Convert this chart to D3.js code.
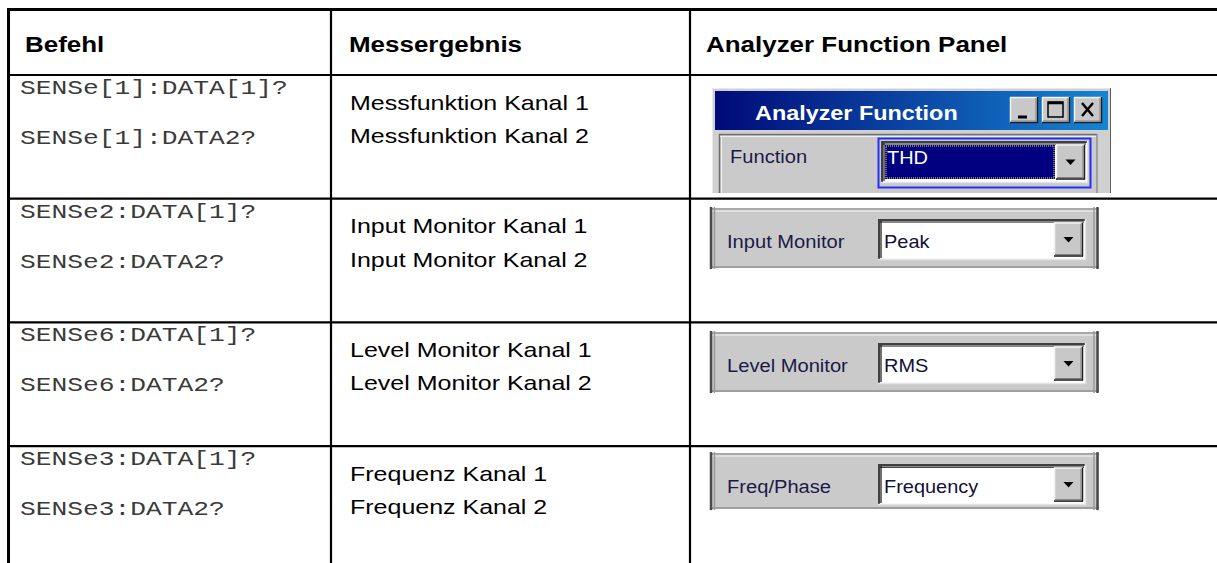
<!DOCTYPE html>
<html><head><meta charset="utf-8">
<script src="https://cdn.jsdelivr.net/npm/d3@7"></script>
<style>html,body{margin:0;padding:0;background:#fff}svg{display:block}</style>
</head><body>
<script>
// ---- data ----
const headers = ["Befehl", "Messergebnis", "Analyzer Function Panel"];
const commands1 = ["SENSe[1]:DATA[1]?", "SENSe2:DATA[1]?", "SENSe6:DATA[1]?", "SENSe3:DATA[1]?"];
const commands2 = ["SENSe[1]:DATA2?", "SENSe2:DATA2?", "SENSe6:DATA2?", "SENSe3:DATA2?"];
const results1 = ["Messfunktion Kanal 1", "Input Monitor Kanal 1", "Level Monitor Kanal 1", "Frequenz Kanal 1"];
const results2 = ["Messfunktion Kanal 2", "Input Monitor Kanal 2", "Level Monitor Kanal 2", "Frequenz Kanal 2"];
const panelLabels = ["Function", "Input Monitor", "Level Monitor", "Freq/Phase"];
const panelValues = ["THD", "Peak", "RMS", "Frequency"];
const windowTitle = "Analyzer Function";

// ---- layout ----
const W = 1217, H = 563;
const svg = d3.select("body").append("svg").attr("width", W).attr("height", H);

const colX = d3.scaleOrdinal().domain([0, 1, 2]).range([8.5, 331, 690]);
const rowY = d3.scaleLinear().domain([0, 4]).range([75, 75 + 4 * 123.7]);
const rows = d3.range(commands1.length);

const lines = svg.append("g").attr("stroke", "#000");
lines.append("line").attr("x1", 7).attr("x2", W).attr("y1", 9.5).attr("y2", 9.5).attr("stroke-width", 3);
lines.selectAll("line.h").data(rows).join("line").attr("class", "h")
  .attr("x1", 7).attr("x2", W).attr("y1", d => rowY(d)).attr("y2", d => rowY(d)).attr("stroke-width", 2.2);
lines.selectAll("line.v").data([0, 1, 2]).join("line").attr("class", "v")
  .attr("x1", d => colX(d)).attr("x2", d => colX(d)).attr("y1", 8).attr("y2", H)
  .attr("stroke-width", d => d === 0 ? 3 : 2.2);

function stretchedText(g, x, y, txt, font, size, weight, fill, sx) {
  return g.append("text").attr("transform", `translate(${x},${y}) scale(${sx},1)`)
    .attr("font-family", font).attr("font-size", size).attr("font-weight", weight || "normal")
    .attr("fill", fill || "#000").text(txt);
}
const SANS = "'Liberation Sans', Arial, sans-serif";
const MONO = "'Liberation Mono', 'Courier New', monospace";
const UI = "'Liberation Sans', Tahoma, sans-serif";

// header
const hx = [25, 349, 706];
headers.forEach((h, i) => stretchedText(svg, hx[i], 51.5, h, SANS, 22, "bold", "#000", 1.18));

// body text
rows.forEach(i => {
  const top = rowY(i);
  stretchedText(svg, 20, top + 19, commands1[i], MONO, 21, "normal", "#3a3a3a", 1.25);
  stretchedText(svg, 20, top + 69, commands2[i], MONO, 21, "normal", "#3a3a3a", 1.25);
  stretchedText(svg, 350, top + 34.5, results1[i], SANS, 21, "normal", "#000", 1.19);
  stretchedText(svg, 350, top + 68, results2[i], SANS, 21, "normal", "#000", 1.19);
});

// ---- GUI panels ----
const defs = svg.append("defs");
const grad = defs.append("linearGradient").attr("id", "tbar").attr("x1", 0).attr("x2", 1);
grad.append("stop").attr("offset", 0).attr("stop-color", "#000a78");
grad.append("stop").attr("offset", 1).attr("stop-color", "#1584d2");

const GRAY = "#cacaca";
function rect(g, x, y, w, h, fill, stroke, sw) {
  return g.append("rect").attr("x", x).attr("y", y).attr("width", w).attr("height", h)
    .attr("fill", fill || "none").attr("stroke", stroke || "none").attr("stroke-width", sw || 1);
}
function hline(g, x1, x2, y, c, w) { g.append("line").attr("x1", x1).attr("x2", x2).attr("y1", y).attr("y2", y).attr("stroke", c).attr("stroke-width", w || 1); }
function vline(g, x, y1, y2, c, w) { g.append("line").attr("x1", x).attr("x2", x).attr("y1", y1).attr("y2", y2).attr("stroke", c).attr("stroke-width", w || 1); }

function bevelButton(g, x, y, w, h) {
  rect(g, x, y, w, h, "#c8c8c8");
  hline(g, x, x + w, y + 0.5, "#f4f4f4", 1.5); vline(g, x + 0.5, y, y + h, "#f4f4f4", 1.5);
  hline(g, x, x + w, y + h - 0.5, "#202020", 1.5); vline(g, x + w - 0.5, y, y + h, "#202020", 1.5);
  hline(g, x + 1, x + w - 1, y + h - 2, "#808080", 1); vline(g, x + w - 2, y + 1, y + h - 1, "#808080", 1);
}
function arrow(g, cx, cy) {
  g.append("path").attr("d", `M${cx - 5},${cy - 2.5} L${cx + 5},${cy - 2.5} L${cx},${cy + 3} Z`).attr("fill", "#000");
}
function combo(g, x, y, w, h, value, selected) {
  rect(g, x, y, w, h, "#fff");
  hline(g, x, x + w, y + 1, "#404040", 2); vline(g, x + 1, y, y + h, "#404040", 2);
  hline(g, x, x + w, y + h - 0.5, "#e4e4e4", 1.5); vline(g, x + w - 0.5, y, y + h, "#e4e4e4", 1.5);
  hline(g, x + 2, x + w - 2, y + 3, "#101010", 1.2); vline(g, x + 3, y + 2, y + h - 2, "#101010", 1.2);
  const bw = 29;
  if (selected) {
    rect(g, x + 4, y + 4, w - bw - 8, h - 8, "#000080");
    rect(g, x + 5, y + 5, w - bw - 10, h - 10, "none", "#f0e060", 1).attr("stroke-dasharray", "1,1");
  }
  bevelButton(g, x + w - bw - 3, y + 3.5, bw, h - 7);
  arrow(g, x + w - bw / 2 - 3, y + h / 2);
  stretchedText(g, x + 6, y + h / 2 + (selected ? 1.5 : 8.5), value, UI, 19, "normal", selected ? "#fff" : "#10103a", 1.05);
}

// panel 1: window
{
  const g = svg.append("g");
  rect(g, 712, 88, 399, 105, "#d0d0d0");
  vline(g, 712.5, 88, 193, "#e8e8e8", 1); hline(g, 712, 1111, 88.5, "#e8e8e8", 1);
  vline(g, 1110.5, 88, 193, "#606060", 1);
  rect(g, 715, 91, 393, 39, "url(#tbar)");
  stretchedText(g, 755, 119.5, windowTitle, UI, 20, "bold", "#fff", 1.17);
  [1010, 1042, 1074].forEach((bx, k) => {
    bevelButton(g, bx, 97, 28, 26);
    const c = g.append("g").attr("stroke", "#000").attr("fill", "none").attr("stroke-width", 2.5);
    if (k === 0) c.append("line").attr("x1", bx + 8).attr("x2", bx + 17).attr("y1", 117).attr("y2", 117).attr("stroke-width", 3);
    if (k === 1) { c.append("rect").attr("x", bx + 6).attr("y", 102).attr("width", 15).attr("height", 15).attr("stroke-width", 1.5); hline(c, bx + 6, bx + 21, 103, "#000", 2.5); }
    if (k === 2) { c.append("path").attr("d", `M${bx + 8},103 L${bx + 19},116 M${bx + 19},103 L${bx + 8},116`).attr("stroke-width", 2.5); }
  });
  rect(g, 719, 134, 378, 59, GRAY);
  hline(g, 719, 1097, 134.5, "#707070", 1.5); vline(g, 719.5, 134, 193, "#707070", 1.5);
  hline(g, 720, 1097, 136.5, "#f0f0f0", 1); vline(g, 721.5, 136, 193, "#f0f0f0", 1);
  vline(g, 1097, 134, 193, "#909090", 1.5);
  stretchedText(g, 730, 162.5, panelLabels[0], UI, 19, "normal", "#1a1a48", 1.06);
  rect(g, 878.5, 138.5, 212, 49, "none", "#2030ff", 2);
  combo(g, 881, 141, 207, 42, panelValues[0], true);
}

// panels 2-4
const panelTops = rows.slice(1).map(i => rowY(i) + [0, 9.3, 9.6, 7][i]);
rows.slice(1).forEach((i, k) => {
  const g = svg.append("g");
  const yT = panelTops[k];
  const h = i === 3 ? 56 : 60;
  rect(g, 712, yT, 387, h, GRAY);
  hline(g, 712, 1099, yT + 1, "#a8a8a8", 2);
  hline(g, 712, 1099, yT + 3, "#e6e6e6", 1.5);
  hline(g, 712, 1099, yT + h - 1, "#909090", 1.5);
  vline(g, 711, yT - 1, yT + h + 1, "#4a4a4a", 2.5);
  vline(g, 714.5, yT - 1, yT + h + 1, "#9a9a9a", 1.5);
  vline(g, 1094, yT - 1, yT + h + 1, "#9a9a9a", 1.5);
  vline(g, 1097.5, yT - 1, yT + h + 1, "#4a4a4a", 2.5);
  stretchedText(g, 727, yT + 40, panelLabels[i], UI, 19, "normal", "#1a1a48", 1.06);
  combo(g, 878, yT + 11, 208, 41, panelValues[i], false);
});
</script>
</body></html>
